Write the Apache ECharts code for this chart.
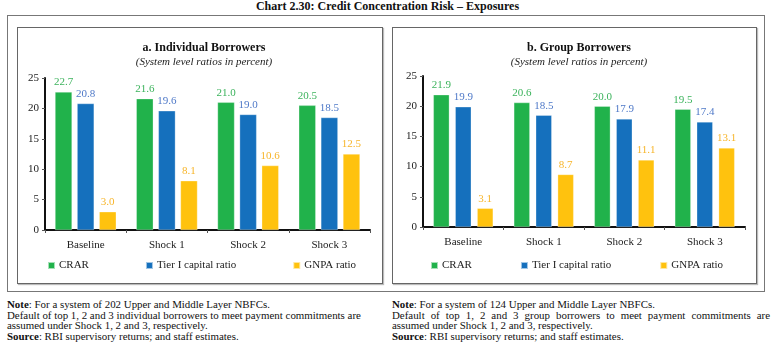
<!DOCTYPE html>
<html>
<head>
<meta charset="utf-8">
<script src="https://cdn.jsdelivr.net/npm/echarts@6/dist/echarts.min.js"></script>
<style>
  html, body { margin: 0; padding: 0; background: #fff; }
  body { width: 775px; height: 351px; position: relative; overflow: hidden; font-family: 'Liberation Serif', serif; color: #111; }
  .title { position: absolute; top: 0; left: 0; width: 775px; text-align: center; font-size: 12px; font-weight: bold; line-height: 13px; }
  .outer { position: absolute; left: 7px; top: 15px; width: 758px; height: 277px; border: 1px solid #777; box-sizing: border-box; }
  .panel { position: absolute; top: 27px; height: 257px; border: 1px solid #666; box-sizing: border-box; box-shadow: 1px 1px 1px #bbb; }
  .note { position: absolute; top: 299px; font-size: 10.9px; line-height: 10.5px; white-space: nowrap; }
  .note b { font-weight: bold; }
  .note .just { display: block; text-align: justify; text-align-last: justify; white-space: normal; }
  #chart { position: absolute; left: 0; top: 0; width: 775px; height: 351px; }
</style>
</head>
<body>
<div class="title">Chart 2.30: Credit Concentration Risk – Exposures</div>
<div class="outer"></div>
<div class="panel" style="left:17px; width:366px;"></div>
<div class="panel" style="left:392px; width:365px;"></div>
<div class="note" style="left:7px; width:364px;">
  <b>Note</b>: For a system of 202 Upper and Middle Layer NBFCs.<br>
  Default of top 1, 2 and 3 individual borrowers to meet payment commitments are<br>
  assumed under Shock 1, 2 and 3, respectively.<br>
  <b>Source</b>: RBI supervisory returns; and staff estimates.
</div>
<div class="note" style="left:392px; width:378px;">
  <b>Note</b>: For a system of 124 Upper and Middle Layer NBFCs.<br>
  <span class="just">Default of top 1, 2 and 3 group borrowers to meet payment commitments are</span>
  assumed under Shock 1, 2 and 3, respectively.<br>
  <b>Source</b>: RBI supervisory returns; and staff estimates.
</div>
<div id="chart"></div>
<script>
const categories = ['Baseline', 'Shock 1', 'Shock 2', 'Shock 3']
const seriesNames = ['CRAR', 'Tier I capital ratio', 'GNPA ratio']

// a. Individual Borrowers
const indivCrar = [22.7, 21.6, 21.0, 20.5]
const indivTier1 = [20.8, 19.6, 19.0, 18.5]
const indivGnpa = [3.0, 8.1, 10.6, 12.5]

// b. Group Borrowers
const groupCrar = [21.9, 20.6, 20.0, 19.5]
const groupTier1 = [19.9, 18.5, 17.9, 17.4]
const groupGnpa = [3.1, 8.7, 11.1, 13.1]

const barColors = ['#21b24b', '#1570bd', '#ffc20e']
const labelColors = ['#3cb35c', '#4f79c8', '#f7b52a']
const font = 'Liberation Serif'

const chart = echarts.init(document.getElementById('chart'))

const makeAxes = (idx) => ({
  x: {
    type: 'category',
    gridIndex: idx,
    data: categories,
    axisLine: { lineStyle: { color: '#111', width: 2 } },
    axisTick: { show: true, length: 3, lineStyle: { color: '#555' } },
    axisLabel: { color: '#222', fontFamily: font, fontSize: 11, margin: 10 }
  },
  y: {
    type: 'value',
    gridIndex: idx,
    min: 0,
    max: 25,
    interval: 5,
    axisLine: { show: true, lineStyle: { color: '#111', width: 2 } },
    axisTick: { show: true, inside: false, length: 3, lineStyle: { color: '#555' } },
    axisLabel: { color: '#222', fontFamily: font, fontSize: 11, margin: 6 },
    splitLine: { show: false }
  }
})

const makeSeries = (idx, data, barWidth, barGap) => data.map((d, i) => ({
  name: seriesNames[i],
  type: 'bar',
  xAxisIndex: idx,
  yAxisIndex: idx,
  data: d,
  barWidth: barWidth,
  barGap: barGap,
  itemStyle: { color: barColors[i], borderColor: 'rgba(255,255,255,0.6)', borderWidth: 0.5 },
  label: {
    show: true,
    position: 'top',
    distance: 4,
    color: labelColors[i],
    fontFamily: font,
    fontSize: 11,
    formatter: (p) => p.value.toFixed(1)
  }
}))

const a0 = makeAxes(0)
const a1 = makeAxes(1)

const legendBase = {
  data: seriesNames,
  top: 260,
  padding: 0,
  icon: 'rect',
  itemWidth: 7,
  itemHeight: 7,
  textStyle: { color: '#222', fontFamily: font, fontSize: 11, padding: [0, 0, 0, -1] }
}

const option = {
  animation: false,
  title: [
    {
      text: 'a. Individual Borrowers',
      subtext: '(System level ratios in percent)',
      left: 199, top: 37, textAlign: 'center', itemGap: 3,
      textStyle: { fontFamily: font, fontSize: 12, fontWeight: 'bold', color: '#111' },
      subtextStyle: { fontFamily: font, fontSize: 11, fontStyle: 'italic', color: '#222' }
    },
    {
      text: 'b. Group Borrowers',
      subtext: '(System level ratios in percent)',
      left: 574, top: 37, textAlign: 'center', itemGap: 3,
      textStyle: { fontFamily: font, fontSize: 12, fontWeight: 'bold', color: '#111' },
      subtextStyle: { fontFamily: font, fontSize: 11, fontStyle: 'italic', color: '#222' }
    }
  ],
  legend: [
    Object.assign({}, legendBase, { left: 47, itemGap: 56 }),
    Object.assign({}, legendBase, { left: 430, itemGap: 48 })
  ],
  grid: [
    { left: 45, right: 405, top: 78, bottom: 121 },
    { left: 423, right: 30, top: 76, bottom: 124 }
  ],
  xAxis: [a0.x, a1.x],
  yAxis: [a0.y, a1.y],
  series: [
    ...makeSeries(0, [indivCrar, indivTier1, indivGnpa], 17, '30%'),
    ...makeSeries(1, [groupCrar, groupTier1, groupGnpa], 16, '37%')
  ]
}

chart.setOption(option)
</script>
</body>
</html>
